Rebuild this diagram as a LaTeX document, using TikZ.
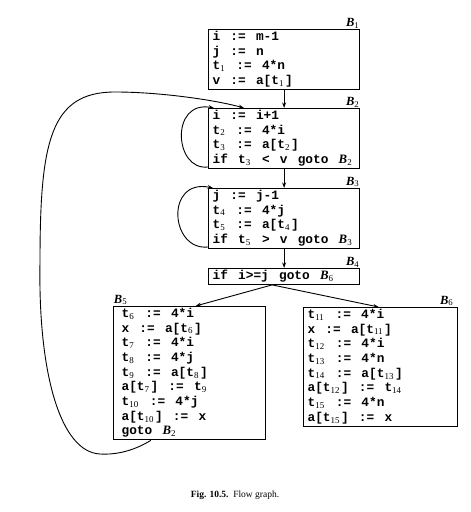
\documentclass[tikz,border=0pt]{standalone}
\usepackage{fontspec}
\setmainfont{Liberation Serif}
\setmonofont{Liberation Mono}
\usepackage{tikz}
\usetikzlibrary{arrows.meta}
\newcommand{\codefont}{\fontsize{12.8bp}{14.7bp}\selectfont\ttfamily\bfseries}
\newcommand{\ts}[1]{\textsubscript{\rmfamily\mdseries #1}\kern1bp\relax}
\newcommand{\blk}[1]{{\rmfamily\bfseries\itshape B}\textsubscript{\rmfamily\mdseries\upshape #1}}
\tikzset{
  blockbox/.style={draw,line width=1.2bp,anchor=north west,align=left,
    inner xsep=4bp,inner ysep=.5bp,font=\codefont,
    execute at begin node={\spaceskip=10.2bp\relax\strut},
    execute at end node=\strut},
  blocklabel/.style={inner sep=.5bp,font=\fontsize{12.5bp}{14bp}\selectfont}
}

\begin{document}
\begin{tikzpicture}[x=1bp,y=1bp,>={Stealth[length=5.5bp,width=3.8bp]},line cap=round,line width=.9bp]
  \useasboundingbox (0,0) rectangle (471,512);

  % basic blocks
  \node[blockbox,text width=143bp] (b1) at (208,483)
    {i := m-1\\ j := n\\ t\ts{1} := 4*n\\ v := a[t\ts{1}]};
  \node[blockbox,text width=143bp] (b2) at (208,404)
    {i := i+1\\ t\ts{2} := 4*i\\ t\ts{3} := a[t\ts{2}]\\ if t\ts{3} < v goto \blk{2}};
  \node[blockbox,text width=143bp] (b3) at (208,324)
    {j := j-1\\ t\ts{4} := 4*j\\ t\ts{5} := a[t\ts{4}]\\ if t\ts{5} > v goto \blk{3}};
  \node[blockbox,text width=143bp] (b4) at (208,244)
    {if i>=j goto \blk{6}};
  \node[blockbox,text width=136bp,inner xsep=8bp] (b5) at (113,206)
    {t\ts{6} := 4*i\\ x := a[t\ts{6}]\\ t\ts{7} := 4*i\\ t\ts{8} := 4*j\\
     t\ts{9} := a[t\ts{8}]\\ a[t\ts{7}] := t\ts{9}\\ t\ts{10} := 4*j\\
     a[t\ts{10}] := x\\ goto \blk{2}};
  \node[blockbox,text width=146bp] (b6) at (303,205)
    {t\ts{11} := 4*i\\ x := a[t\ts{11}]\\ t\ts{12} := 4*i\\ t\ts{13} := 4*n\\
     t\ts{14} := a[t\ts{13}]\\ a[t\ts{12}] := t\ts{14}\\ t\ts{15} := 4*n\\
     a[t\ts{15}] := x};

  % block names
  \node[blocklabel,anchor=south east] (l1) at (b1.north east) {\blk{1}};
  \node[blocklabel,anchor=south east] (l2) at (b2.north east) {\blk{2}};
  \node[blocklabel,anchor=south east] (l3) at (b3.north east) {\blk{3}};
  \node[blocklabel,anchor=south east] (l4) at (b4.north east) {\blk{4}};
  \node[blocklabel,anchor=south west] (l5) at (b5.north west) {\blk{5}};
  \node[blocklabel,anchor=south east] (l6) at ([xshift=-4bp]b6.north east) {\blk{6}};

  % flow edges
  \draw[->] (b1) -- (b2);
  \draw[->] (b2) -- (b3);
  \draw[->] (b3.south) -- (b3.south |- b4.north);
  \draw[->] ([xshift=-12bp]b4.south) -- ([xshift=6bp]b5.north);
  \draw[->] ([xshift=-12bp]b4.south) -- ([xshift=-2bp]b6.north);

  % loops
  \draw[->] ([yshift=2bp]b2.south west) .. controls +(-34,-4) and +(-44,8)
    .. ([xshift=6bp]b2.north west);
  \draw[->] ([yshift=2bp]b3.south west) .. controls +(-38,-4) and +(-48,10)
    .. ([xshift=5bp]b3.north west);
  \coordinate (back1) at (100,58);
  \coordinate (back2) at (40,250);
  \coordinate (back3) at (115,420);
  \draw[->] ([xshift=-39bp]b5.south) .. controls (135,62) and (118,57) .. (back1)
    .. controls (60,60) and (38,140) .. (back2)
    .. controls (40,370) and (50,420) .. (back3)
    .. controls (160,420) and (215,412) .. ([xshift=-40bp]b2.north);

  \node[font=\fontsize{9.5bp}{11bp}\selectfont] (caption) at (235,17)
    {\textbf{Fig. 10.5.}\ \ Flow graph.};
\end{tikzpicture}
\end{document}
